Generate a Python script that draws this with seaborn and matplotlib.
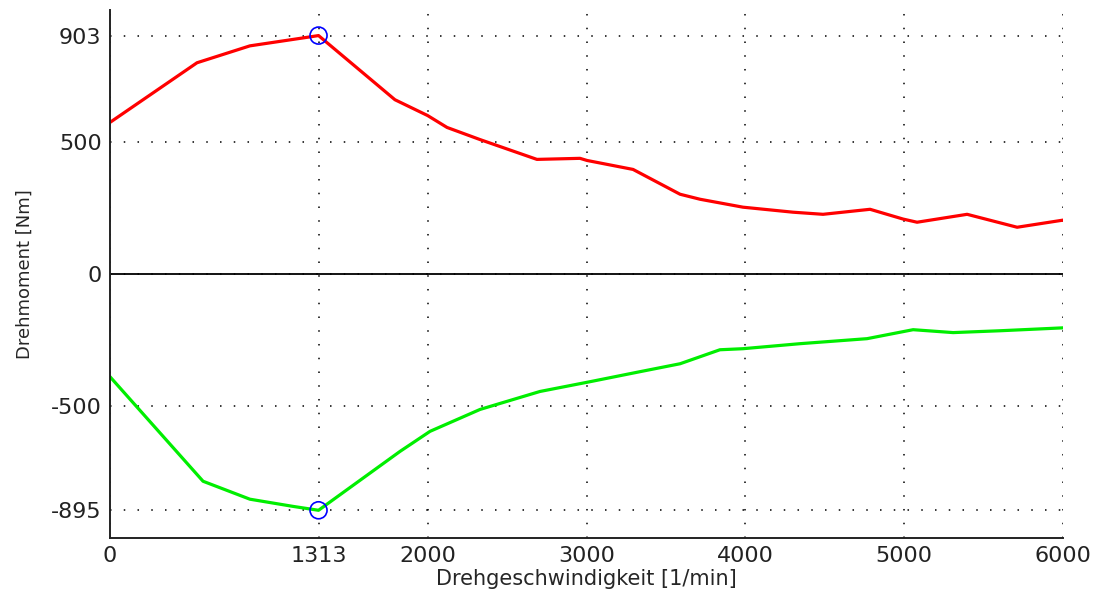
import matplotlib
matplotlib.use("Agg")
import matplotlib.pyplot as plt
import seaborn as sns

# Drehmoment-Kennlinie: oberer (rot) und unterer (gruen) Verlauf
rpm_upper = [0, 548, 881, 1259, 1313, 1794, 2000, 2122, 2330, 2688, 2959,
             3003, 3293, 3589, 3715, 3985, 4300, 4489, 4785, 4993, 5081, 5396,
             5711, 6000]
torque_upper = [574, 800, 864, 898, 903, 660, 600, 555, 509, 434, 438,
                430, 396, 302, 283, 253, 234, 226, 245, 208, 196, 226,
                177, 204]

rpm_lower = [0, 586, 881, 1150, 1313, 1826, 2015, 2330, 2707, 3022, 3337,
             3589, 3840, 3985, 4344, 4766, 5056, 5308, 5604, 6000]
torque_lower = [-389, -785, -853, -880, -895, -672, -596, -513, -445,
                -408, -370, -340, -287, -283, -264, -245, -211, -222, -215, -204]

peak_rpm = 1313
peak_values = [903, -895]

x_ticks = [0, 1313, 2000, 3000, 4000, 5000, 6000]
y_ticks = [-895, -500, 0, 500, 903]

sns.set_style("white")
plt.rcParams['font.family'] = ['DejaVu Sans']

fig = plt.figure(figsize=(10.93, 5.96), dpi=100)
ax = fig.add_axes([0.1006, 0.0973, 0.872, 0.886])

sns.lineplot(x=rpm_upper, y=torque_upper, color="#ff0000", linewidth=2.3,
             ax=ax, sort=False, estimator=None)
sns.lineplot(x=rpm_lower, y=torque_lower, color="#00ee00", linewidth=2.3,
             ax=ax, sort=False, estimator=None)
ax.axhline(0, color="black", linewidth=1.3, zorder=1)
sns.scatterplot(x=[peak_rpm, peak_rpm], y=peak_values, ax=ax, s=150,
                facecolor="none", edgecolor="blue", linewidth=1.2, zorder=5)

ax.set_xlim(0, 6000)
ax.set_ylim(-1000, 1000)
ax.set_xticks(x_ticks)
ax.set_yticks(y_ticks)
ax.set_xticklabels([str(t) for t in x_ticks])
ax.set_yticklabels([str(t) for t in y_ticks])

ax.grid(True, color="black", linestyle=(0, (1, 8)), linewidth=1.1)
ax.tick_params(direction="in", length=8, width=1.3, labelsize=16,
               colors="#222222", pad=6)

for side in ["top", "right"]:
    ax.spines[side].set_visible(False)
for side in ["left", "bottom"]:
    ax.spines[side].set_color("#222222")
    ax.spines[side].set_linewidth(1.4)

ax.set_xlabel("Drehgeschwindigkeit [1/min]", fontsize=15, labelpad=2)
ax.set_ylabel("Drehmoment [Nm]", fontsize=13, labelpad=12)

fig.savefig("out.png", dpi=100)
